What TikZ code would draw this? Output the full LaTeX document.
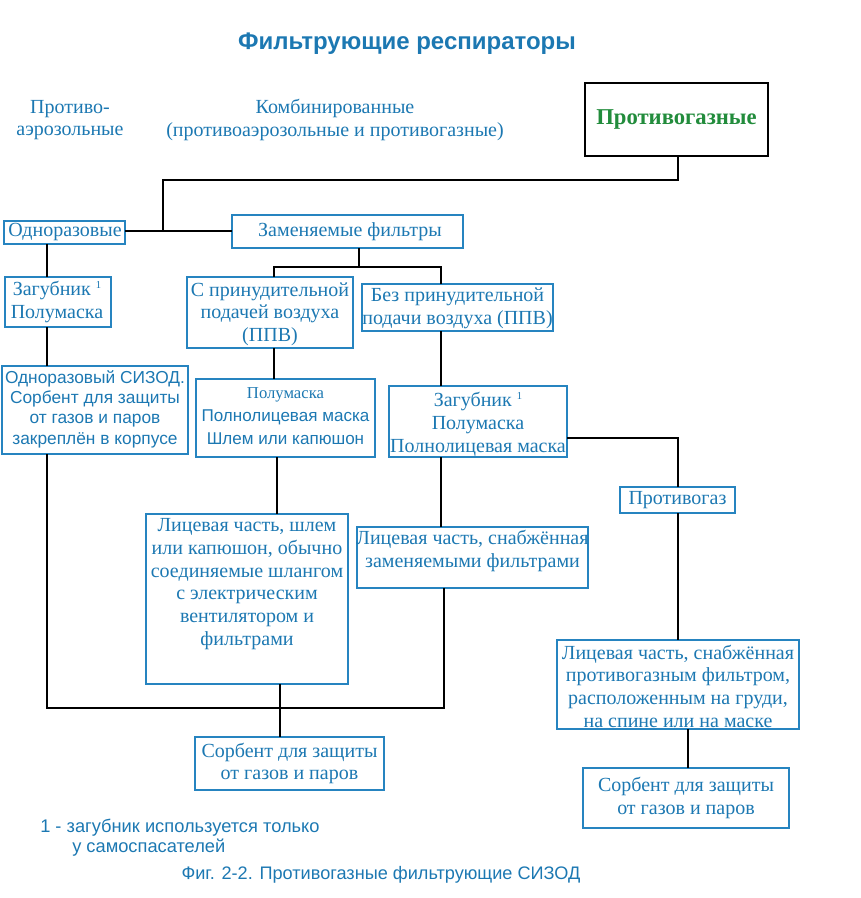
\documentclass[tikz,border=0pt]{standalone}
\usepackage{fontspec}
\setmainfont{Liberation Serif}
\setsansfont{Liberation Sans}
\definecolor{tblue}{RGB}{28,120,178}
\definecolor{bblue}{RGB}{38,132,192}
\definecolor{tgreen}{RGB}{34,140,60}
% #1 name, #2-#5 box corners (px), #6 text style, #7 text x, #8 text y, #9 text
\newcommand\mybox[9]{%
  \node[bx, minimum width={(#4-#2)*0.75pt}, minimum height={(#5-#3)*0.75pt}] (#1) at ({(#2+#4)/2},{(#3+#5)/2}) {};
  \node[#6] (#1-t) at (#7,#8) {#9};}
\tikzset{
  bx/.style={draw=bblue, line width=1.8pt, inner sep=0pt, outer sep=0pt},
  st/.style={text=tblue, align=center, inner sep=0pt, font=\fontsize{15}{17}\selectfont},
  sst/.style={st, font=\sffamily\fontsize{13}{15.2}\selectfont},
  conn/.style={draw=black, line width=2.2pt},
}
\newcommand\sone{~\raisebox{0.85ex}{\fontsize{8}{8}\selectfont 1}}
\begin{document}
\begin{tikzpicture}[x=0.75pt,y=-0.75pt]
\path[use as bounding box] (0,0) rectangle (860,898);
% title and headers
\node[st, font=\sffamily\bfseries\fontsize{18}{21}\selectfont] (title) at (407,44) {Фильтрующие респираторы};
\node[st] (pa) at (70,120) {Противо-\\аэрозольные};
\node[st] (komb) at (335,120) {Комбинированные\\(противоаэрозольные и противогазные)};
\node[draw=black, line width=2.2pt, inner sep=0pt, outer sep=0pt, minimum width={183*0.75pt}, minimum height={73*0.75pt}, text=tgreen, font=\bfseries\fontsize{17}{20}\selectfont] (prg) at (676.5,119.5) {Противогазные};
% boxes
\mybox{odn}{4}{221}{125}{244}{st}{65}{232}{Одноразовые}
\mybox{zam}{232}{215}{463}{248}{st}{350}{232}{Заменяемые фильтры}
\mybox{zag1}{5}{277}{111}{327}{st}{57}{302}{Загубник\sone\\Полумаска}
\mybox{spr}{187}{277}{353}{348}{st}{270}{314}{С принудительной\\подачей воздуха\\(ППВ)}
\mybox{bpr}{362}{284}{553}{331}{st}{457.5}{308}{Без принудительной\\подачи воздуха (ППВ)}
\mybox{sizod}{2}{366}{188}{454}{sst}{95}{409}{Одноразовый СИЗОД.\\Сорбент для защиты\\от газов и паров\\закреплён в корпусе}
\mybox{pol}{196}{379}{375}{457}{st}{285.5}{416}{{\fontsize{12.5}{14.5}\selectfont Полумаска}\\{\sffamily\fontsize{12.8}{14.5}\selectfont Полнолицевая маска}\\{\sffamily\fontsize{12.8}{14.5}\selectfont Шлем или капюшон}}
\mybox{zg2}{389}{386}{567}{457}{st}{478}{424}{Загубник\sone\\Полумаска\\Полнолицевая маска}
\mybox{pgz}{620}{487}{735}{513}{st}{677.5}{500}{Противогаз}
\mybox{lsh}{146}{514}{348}{684}{st}{247}{584}{Лицевая часть, шлем\\или капюшон, обычно\\соединяемые шлангом\\с электрическим\\вентилятором и\\фильтрами}
\mybox{lzf}{357}{527}{588}{588}{st}{472.5}{551}{Лицевая часть, снабжённая\\заменяемыми фильтрами}
\mybox{lpf}{557}{640}{799}{729}{st}{678}{686}{Лицевая часть, снабжённая\\противогазным фильтром,\\расположенным на груди,\\на спине или на маске}
\mybox{sorb1}{195}{737}{384}{790}{st}{289.5}{763.5}{Сорбент для защиты\\от газов и паров}
\mybox{sorb2}{583}{768}{789}{828}{st}{686}{798}{Сорбент для защиты\\от газов и паров}
% footnote and caption
\node[text=tblue, anchor=west, inner sep=0pt, align=left, font=\sffamily\fontsize{13.7}{15}\selectfont] (fn) at (40,838) {1 - загубник используется только\\\hspace*{24pt}у самоспасателей};
\node[st, font=\sffamily\fontsize{13.6}{15}\selectfont] (cap) at (381,875) {Фиг. 2-2. Противогазные фильтрующие СИЗОД};
% helper coordinates
\coordinate (cA) at (47,0);
\coordinate (cJ) at (163,231);
\coordinate (r1) at (0,180);
\coordinate (r2) at (0,267);
\coordinate (cE) at (359,0);
\coordinate (cF) at (274,0);
\coordinate (cG) at (441,0);
\coordinate (cD) at (277,0);
\coordinate (cB) at (280,0);
\coordinate (cC) at (444,0);
\coordinate (cH) at (678,0);
\coordinate (cI) at (688,0);
\coordinate (bot) at (0,708);
\coordinate (r3) at (0,438);
% connectors
\draw[conn] (prg.south -| cH) -- (cH |- r1) -- (cJ |- r1) -- (cJ);
\draw[conn] (odn.east |- cJ) -- (zam.west |- cJ);
\draw[conn] (odn.south -| cA) -- (zag1.north -| cA);
\draw[conn] (zag1.south -| cA) -- (sizod.north -| cA);
\draw[conn] (zam.south -| cE) -- (cE |- r2);
\draw[conn] (spr.north -| cF) -- (cF |- r2) -- (cG |- r2) -- (bpr.north -| cG);
\draw[conn] (spr.south -| cF) -- (pol.north -| cF);
\draw[conn] (bpr.south -| cG) -- (zg2.north -| cG);
\draw[conn] (pol.south -| cD) -- (lsh.north -| cD);
\draw[conn] (zg2.south -| cG) -- (lzf.north -| cG);
\draw[conn] (zg2.east |- r3) -- (cH |- r3) -- (pgz.north -| cH);
\draw[conn] (pgz.south -| cH) -- (lpf.north -| cH);
\draw[conn] (lpf.south -| cI) -- (sorb2.north -| cI);
\draw[conn] (sizod.south -| cA) -- (cA |- bot) -- (cC |- bot) -- (lzf.south -| cC);
\draw[conn] (lsh.south -| cB) -- (sorb1.north -| cB);
\end{tikzpicture}
\end{document}
